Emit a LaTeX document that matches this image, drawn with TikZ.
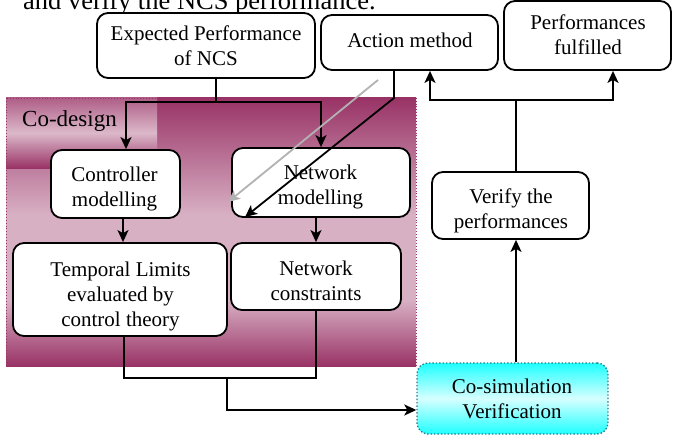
\documentclass[tikz,border=0pt]{standalone}
\usepackage{fontspec}
\setmainfont{Liberation Serif}
\usetikzlibrary{arrows.meta}
\definecolor{codark}{RGB}{153,51,102}
\definecolor{colight}{RGB}{216,176,196}
\definecolor{cyanA}{RGB}{30,255,255}
\definecolor{cyanB}{RGB}{215,255,255}
\definecolor{tealB}{RGB}{40,125,140}
\begin{document}
\begin{tikzpicture}[x=1pt,y=-1pt,
  box/.style={draw=black, line width=1.8pt, rounded corners=11pt, fill=white, inner sep=0pt},
  simbox/.style={draw=tealB, line width=1.4pt, dotted, rounded corners=11pt, inner sep=0pt,
                 top color=cyanA, bottom color=cyanA, middle color=cyanB},
  txt/.style={font=\fontsize{21}{25}\selectfont, align=center, inner sep=0pt},
  ln/.style={line width=1.8pt, draw=black},
  arr/.style={line width=1.8pt, draw=black, -{Stealth[length=12pt,width=11pt,inset=3pt]}},
  garr/.style={line width=1.8pt, draw=black!30, -{Stealth[length=12pt,width=11pt,inset=3pt]}}]
\useasboundingbox (0,0) rectangle (673,436);

% caption line (cut at the top)
\node[anchor=base west, font=\fontsize{26.5}{31}\selectfont, inner sep=0pt] (cap) at (23,9.5) {and verify the NCS performance.};

% co-design region
\shade[top color=codark, bottom color=colight] (6,98) rectangle (416,215);
\fill[colight] (6,214.5) rectangle (416,300.5);
\shade[top color=colight, bottom color=codark] (6,300) rectangle (416,366);
\shade[top color=codark!65!colight, bottom color=codark, middle color=colight!90!white] (6,98) rectangle (157,168);
\draw[codark, line width=0.9pt, dotted] (6,98) rectangle (416,366);
\node[anchor=base west, font=\fontsize{23}{27}\selectfont, inner sep=0pt] (cd) at (22,127) {Co-design};

% boxes
\node[box, minimum width=218pt, minimum height=65pt] (exp) at (206,45.5) {};
\node[box, minimum width=177pt, minimum height=55pt] (act) at (409.5,42.5) {};
\node[box, minimum width=167pt, minimum height=69pt] (perf) at (587.5,35.5) {};
\node[box, minimum width=129pt, minimum height=68pt] (ctrl) at (115.5,184) {};
\node[box, minimum width=178pt, minimum height=69pt] (netm) at (321,182.5) {};
\node[box, minimum width=214pt, minimum height=93pt] (temp) at (120,289.5) {};
\node[box, minimum width=170pt, minimum height=67pt] (netc) at (316,276.5) {};
\node[box, minimum width=157pt, minimum height=67pt] (ver) at (510.5,205.5) {};
\node[simbox, minimum width=191pt, minimum height=71pt] (cosim) at (512.5,398.5) {};

% texts
\node[txt] (exp-t) at (206,45.5) {Expected Performance\\of NCS};
\node[txt] (act-t) at (410,40) {Action method};
\node[txt] (perf-t) at (588,35) {Performances\\fulfilled};
\node[txt] (ctrl-t) at (114.5,188.5) {Controller\\modelling};
\node[txt] (netm-t) at (320.5,186.5) {Network\\modelling};
\node[txt] (temp-t) at (120.5,296) {Temporal Limits\\evaluated by\\control theory};
\node[txt] (netc-t) at (316,281) {Network\\constraints};
\node[txt] (ver-t) at (511,210.5) {Verify the\\performances};
\node[txt] (cosim-t) at (512,399) {Co-simulation\\Verification};

% connectors
\coordinate (j1) at (216,102);
\draw[ln] (exp.south -| j1) -- (j1);
\draw[arr] (j1) -| ([xshift=10.5pt]ctrl.north);
\draw[arr] (j1) -| (netm.north);

\coordinate (g0) at (378,80);
\coordinate (g1) at (228,202);
\draw[garr] (g0) -- (g1);

\coordinate (a0) at (394,98);
\coordinate (a1) at (245,217);
\draw[arr] (act.south -| a0) -- (a0) -- (a1);

\draw[arr] ([xshift=7.5pt]ctrl.south) -- ([xshift=7.5pt]ctrl.south |- temp.north);
\draw[arr] (netc.north |- netm.south) -- (netc.north);

\coordinate (j2) at (227,378);
\coordinate (j3) at (227,410);
\draw[ln] ([xshift=4pt]temp.south) |- (j2) -| (netc.south);
\draw[arr] (j2) -- (j3) -- (cosim.west |- j3);

\draw[arr] ([xshift=3.5pt]cosim.north) -- ([xshift=3.5pt]cosim.north |- ver.south);

\coordinate (j4) at (516,100);
\draw[ln] (ver.north -| j4) -- (j4);
\draw[arr] (j4) -| ([xshift=20.5pt]act.south);
\draw[arr] (j4) -| ([xshift=25.5pt]perf.south);
\end{tikzpicture}
\end{document}
